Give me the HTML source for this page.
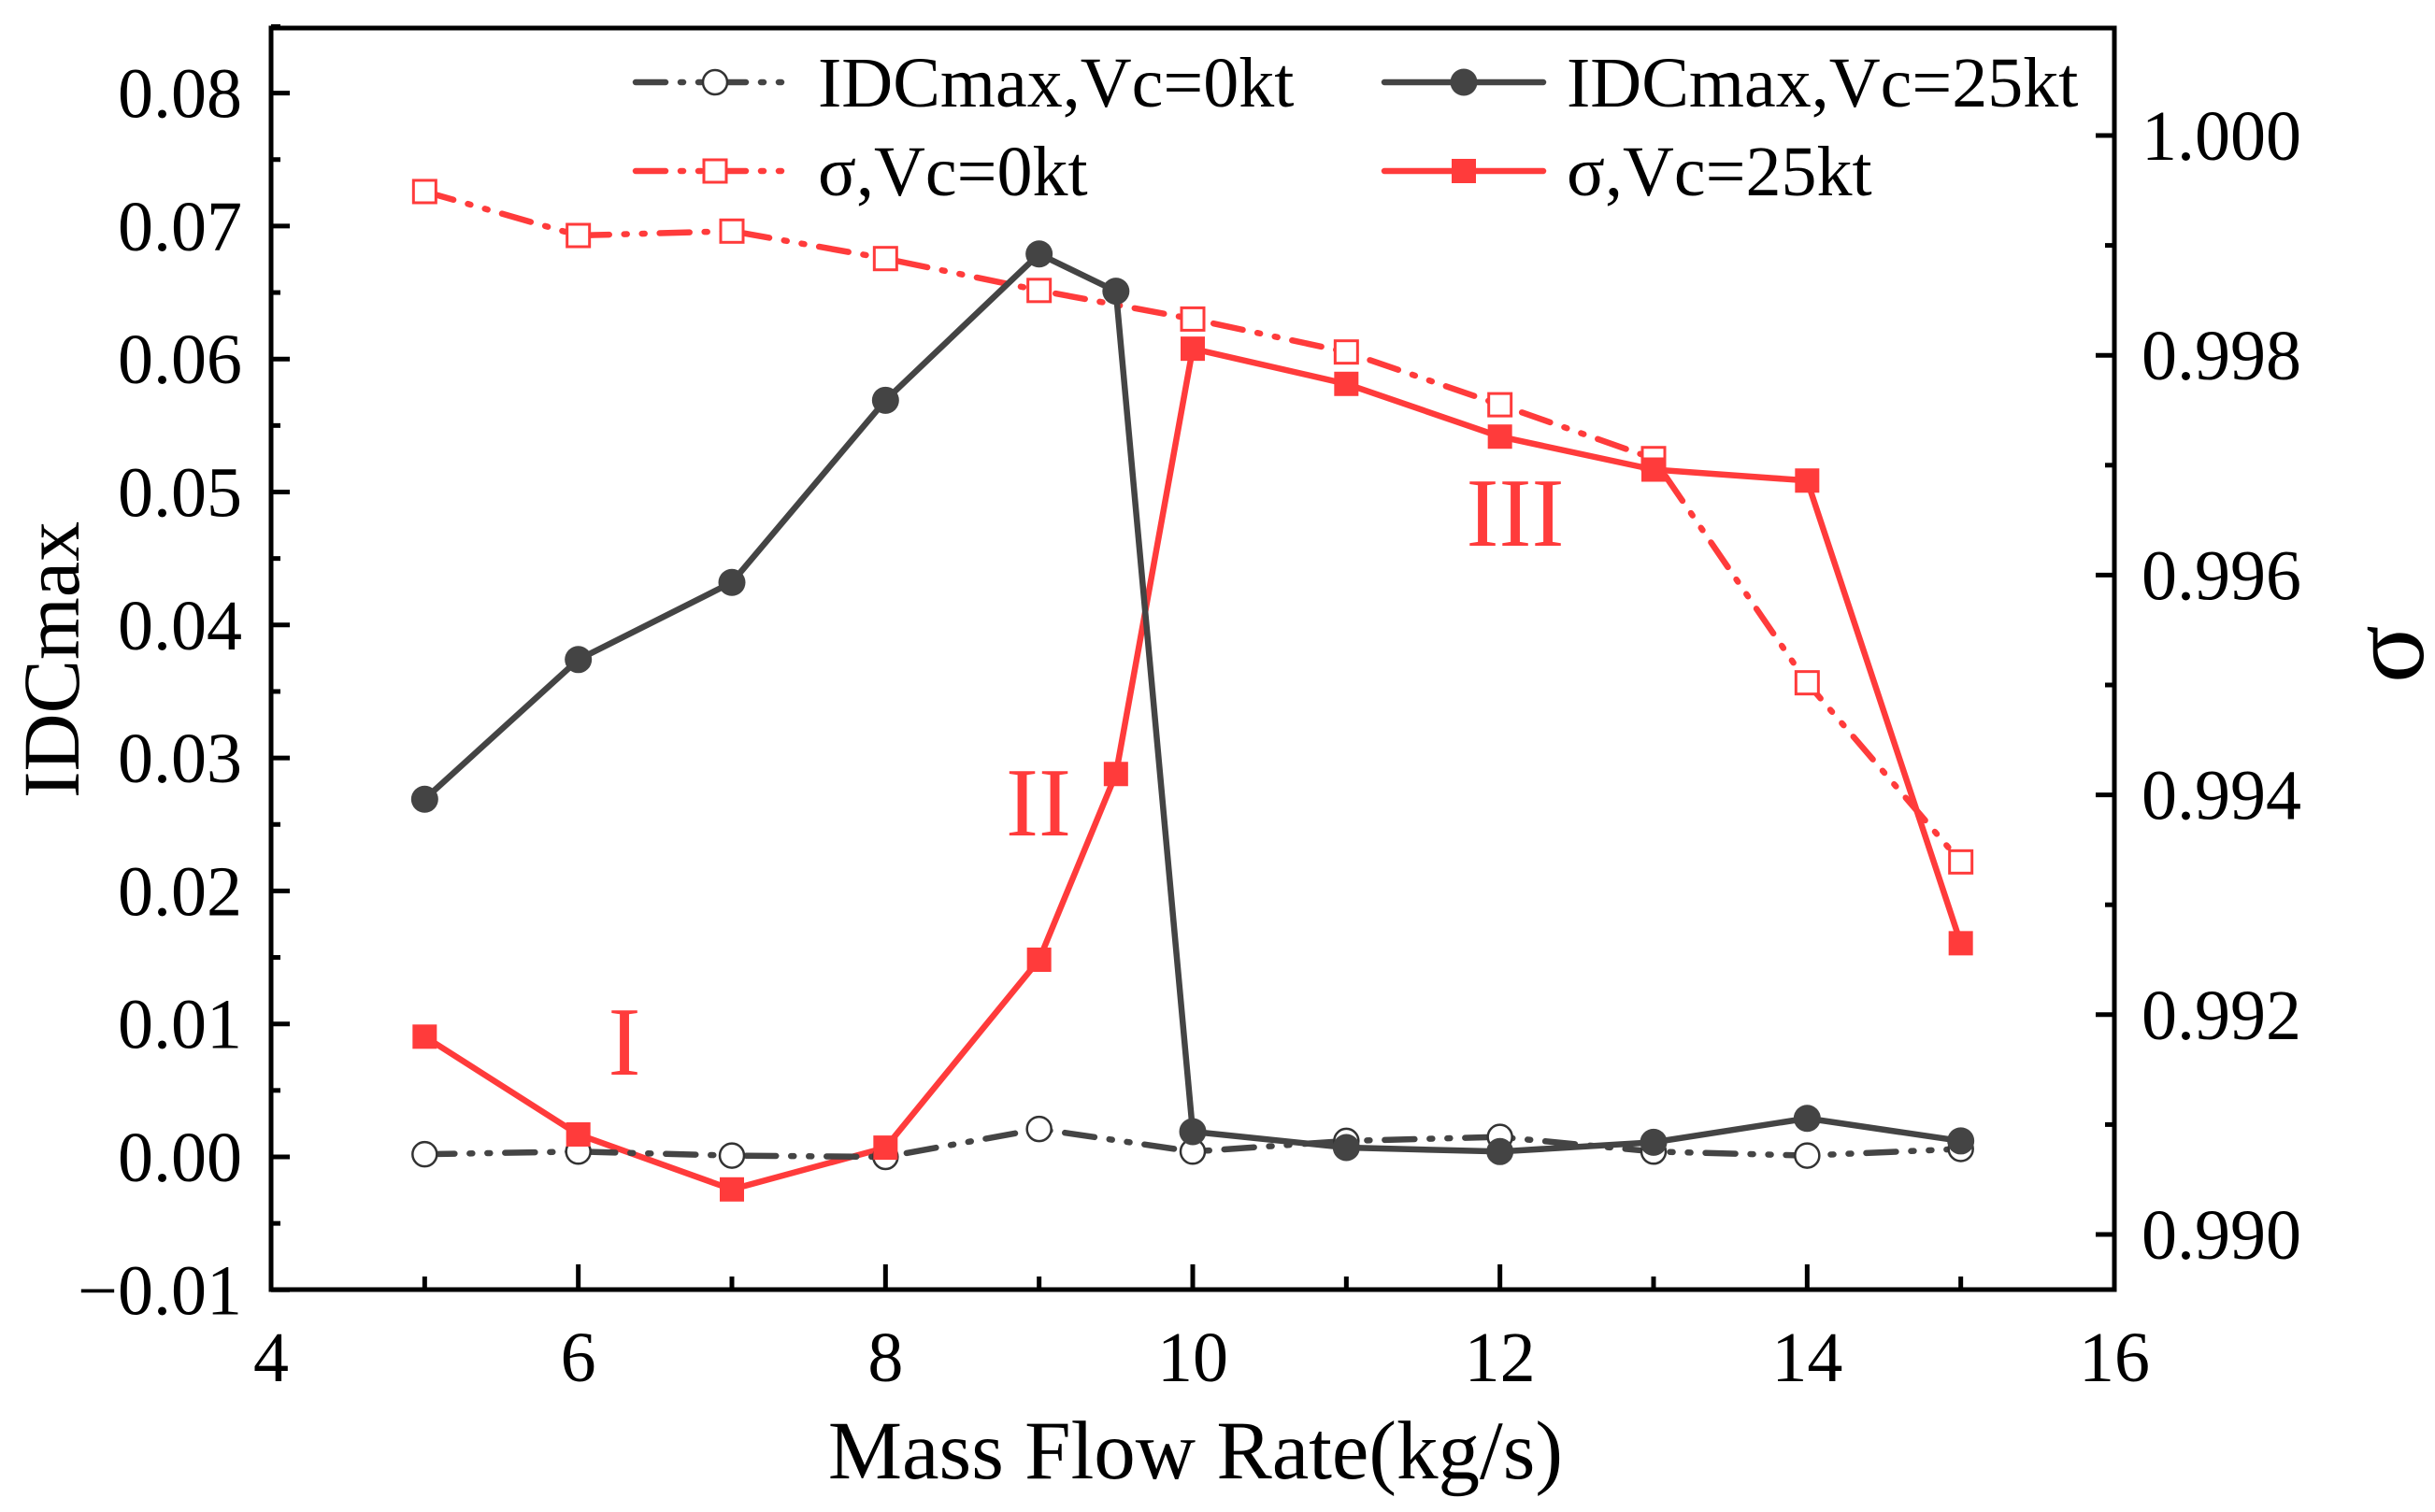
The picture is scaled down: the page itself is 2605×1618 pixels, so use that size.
<!DOCTYPE html>
<html><head><meta charset="utf-8"><style>
html,body{margin:0;padding:0;background:#fff;}
svg{display:block;font-family:"Liberation Serif",serif;}
</style></head><body>
<svg id="chart" width="2605" height="1618" viewBox="0 0 2605 1618"></svg>
<script>
const xs = [5,6,7,8,9,9.5,10,11,12,13,14,15];
const xs0 = [5,6,7,8,9,10,11,12,13,14,15];
const idc25 = [0.0269,0.0374,0.0432,0.0569,0.0679,0.0651,0.0019,0.0007,0.0004,0.0011,0.0029,0.0012];
const idc0 = [0.0002,0.0004,0.0001,0.0000,0.0021,0.0004,0.0012,0.0015,0.0004,0.0001,0.0006];
const sig0 = [0.99949,0.99909,0.99913,0.99888,0.99859,0.99833,0.99803,0.99755,0.99706,0.99502,0.99339];
const sig25 = [0.99180,0.99091,0.99041,0.99079,0.99250,0.99419,0.99806,0.99774,0.99726,0.99696,0.99686,0.99265];
const xTicks = [4,6,8,10,12,14,16];
const yTicks = [-0.01,0.00,0.01,0.02,0.03,0.04,0.05,0.06,0.07,0.08];
const y2Ticks = [0.990,0.992,0.994,0.996,0.998,1.000];

const L=290,R=2262,T=30,B=1380;
const X=v=>L+(v-4)/12*(R-L);
const Y=v=>1238-v*14230;
const Y2=v=>1321-(v-0.990)/0.002*235.2;
const svg=document.getElementById('chart');
const NS='http://www.w3.org/2000/svg';
function mk(t,a,p){const e=document.createElementNS(NS,t);for(const k in a)e.setAttribute(k,a[k]);(p||svg).appendChild(e);return e;}

function line(xv,yv,fy,color,dash,name){
  const pts=xv.map((x,i)=>X(x)+','+fy(yv[i])).join(' ');
  const e=mk('polyline',{points:pts,fill:'none',stroke:color,'stroke-width':6.5,'stroke-dasharray':dash||'none','stroke-linecap':'round','stroke-linejoin':'round'});
  
  
}
const DD='32 16 3 16 3 16';
line(xs0,sig0,Y2,'#ff3b3b',DD,'sigma-vc0-line');
line(xs,sig25,Y2,'#ff3b3b','', 'sigma-vc25-line');
line(xs0,idc0,Y,'#444',DD,'idc-vc0-line');
line(xs,idc25,Y,'#444','', 'idc-vc25-line');
xs0.forEach((x,i)=>{const e=mk('circle',{cx:X(x),cy:Y(idc0[i]),r:13,fill:'#fff',stroke:'#333','stroke-width':2.5});

});
xs.forEach((x,i)=>{const e=mk('circle',{cx:X(x),cy:Y(idc25[i]),r:14.5,fill:'#444'});

});
xs0.forEach((x,i)=>{const e=mk('rect',{x:X(x)-12,y:Y2(sig0[i])-12,width:24,height:24,fill:'#fff',stroke:'#ff3b3b','stroke-width':3});

});
xs.forEach((x,i)=>{const e=mk('rect',{x:X(x)-13,y:Y2(sig25[i])-13,width:26,height:26,fill:'#ff3b3b'});

});

const fr=mk('rect',{x:L,y:T,width:R-L,height:B-T,fill:'none',stroke:'#000','stroke-width':5});


xTicks.forEach(v=>{mk('line',{x1:X(v),x2:X(v),y1:B,y2:B-27,stroke:'#000','stroke-width':5});
const t=mk('text',{x:X(v),y:1478,'font-size':76,'text-anchor':'middle'});t.textContent=v;

});
for(let v=5;v<16;v+=2)mk('line',{x1:X(v),x2:X(v),y1:B,y2:B-14,stroke:'#000','stroke-width':5});
yTicks.forEach(v=>{mk('line',{x1:L,x2:L+20,y1:Y(v),y2:Y(v),stroke:'#000','stroke-width':5});
const t=mk('text',{x:259,y:Y(v)+26,'font-size':76,'text-anchor':'end'});t.textContent=(v<0?'\u22120.01':v.toFixed(2));

});
for(let v=-0.005;v<0.085;v+=0.01)mk('line',{x1:L,x2:L+10,y1:Y(v),y2:Y(v),stroke:'#000','stroke-width':5});
y2Ticks.forEach(v=>{mk('line',{x1:R,x2:R-20,y1:Y2(v),y2:Y2(v),stroke:'#000','stroke-width':5});
const t=mk('text',{x:2291,y:Y2(v)+26,'font-size':76});t.textContent=v.toFixed(3);

});
for(let v=0.991;v<1.0006;v+=0.002)mk('line',{x1:R,x2:R-10,y1:Y2(v),y2:Y2(v),stroke:'#000','stroke-width':5});

let t=mk('text',{x:1279,y:1582,'font-size':89,'text-anchor':'middle'});t.textContent='Mass Flow Rate(kg/s)';


t=mk('text',{x:0,y:0,'font-size':86,'text-anchor':'middle',transform:'translate(84,706) rotate(-90)'});t.textContent='IDCmax';


t=mk('text',{x:0,y:0,'font-size':115,'text-anchor':'middle',transform:'translate(2592,700) rotate(-90)'});t.textContent='σ';



[['I',668,1150],['II',1111,894],['III',1621,584]].forEach(a=>{const e=mk('text',{x:a[1],y:a[2],'font-size':105,fill:'#ff3b3b','text-anchor':'middle'});e.textContent=a[0];

});

function leg(x,y,color,dash,marker,label){
  const g=mk('g',{});
  
  
  mk('line',{x1:x,x2:x+170,y1:y,y2:y,stroke:color,'stroke-width':6.5,'stroke-dasharray':dash,'stroke-linecap':'round'},g);
  const cx=x+85;
  if(marker=='oc')mk('circle',{cx:cx,cy:y,r:13,fill:'#fff',stroke:'#333','stroke-width':2.5},g);
  if(marker=='fc')mk('circle',{cx:cx,cy:y,r:14.5,fill:'#444'},g);
  if(marker=='os')mk('rect',{x:cx-12,y:y-12,width:24,height:24,fill:'#fff',stroke:'#ff3b3b','stroke-width':3},g);
  if(marker=='fs')mk('rect',{x:cx-13,y:y-13,width:26,height:26,fill:'#ff3b3b'},g);
  const tx=mk('text',{x:x+195,y:y+26,'font-size':76},g);tx.textContent=label;
}
leg(680,88,'#444',DD,'oc','IDCmax,Vc=0kt');
leg(1481,88,'#444','none','fc','IDCmax,Vc=25kt');
leg(680,183,'#ff3b3b',DD,'os','σ,Vc=0kt');
leg(1481,183,'#ff3b3b','none','fs','σ,Vc=25kt');
</script>
</body></html>
